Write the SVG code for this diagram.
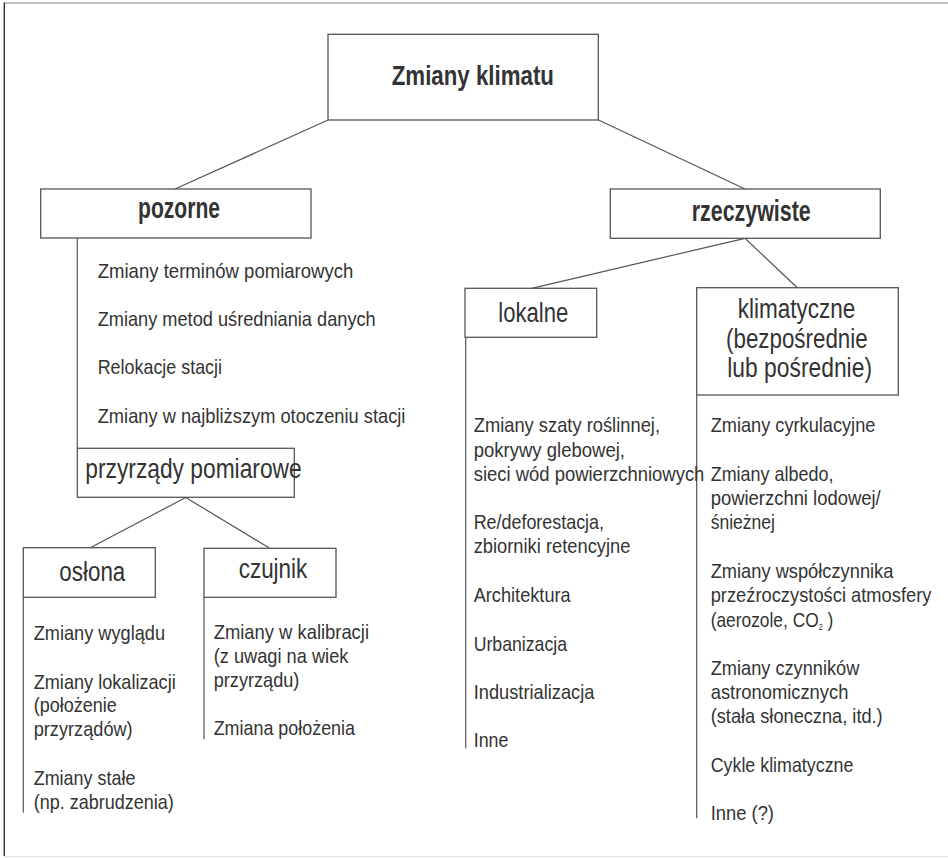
<svg xmlns="http://www.w3.org/2000/svg" width="948" height="858" viewBox="0 0 948 858">
<style>
.box{fill:#fff;stroke:#555;stroke-width:1.3}
.c{stroke:#555;stroke-width:1.2;fill:none}
text{font-family:"Liberation Sans",Arial,sans-serif;fill:#333}
.t{font-size:21px}
.lb{font-size:27px}
.b{font-size:28px;font-weight:bold}
.b2{font-size:30px;font-weight:bold}
</style>
<rect x="0" y="0" width="948" height="858" fill="#fff"/>
<g id="frame">
<line x1="4" y1="3" x2="948" y2="3" stroke="#888" stroke-width="1.2"/>
<line x1="4.3" y1="2.5" x2="4.3" y2="856" stroke="#333" stroke-width="1.4"/>
<line x1="4" y1="856.7" x2="948" y2="856.7" stroke="#e4e4e4" stroke-width="1.2"/>
</g>
<g id="connectors">
<line class="c" x1="328" y1="120" x2="175" y2="189"/>
<line class="c" x1="598.5" y1="120" x2="745" y2="189"/>
<line class="c" x1="77.3" y1="238" x2="77.3" y2="448.3"/>
<line class="c" x1="185.7" y1="497.5" x2="90.7" y2="547.5"/>
<line class="c" x1="185.7" y1="497.5" x2="269.3" y2="548"/>
<line class="c" x1="23.3" y1="597.3" x2="23.3" y2="812.7"/>
<line class="c" x1="204" y1="597.3" x2="204" y2="739.3"/>
<line class="c" x1="745" y1="238.3" x2="531.7" y2="288.3"/>
<line class="c" x1="745" y1="238.3" x2="797.3" y2="287.7"/>
<line class="c" x1="465.7" y1="337.3" x2="465.7" y2="748.3"/>
<line class="c" x1="696.7" y1="395" x2="696.7" y2="818.3"/>
</g>
<g id="n-zmiany-klimatu">
<rect class="box" x="328" y="34.3" width="270.3" height="85.7"/>
<text class="b" x="391.7" y="85" textLength="162.3" lengthAdjust="spacingAndGlyphs">Zmiany klimatu</text>
</g>
<g id="n-pozorne">
<rect class="box" x="40.7" y="189" width="270.3" height="49"/>
<text class="b2" x="138" y="217.5" textLength="82" lengthAdjust="spacingAndGlyphs">pozorne</text>
</g>
<g id="n-rzeczywiste">
<rect class="box" x="610.3" y="189" width="270" height="49.3"/>
<text class="b2" x="691.7" y="220.5" textLength="119" lengthAdjust="spacingAndGlyphs">rzeczywiste</text>
</g>
<g id="l-pozorne">
<text class="t" x="97.7" y="278.3" textLength="255.7" lengthAdjust="spacingAndGlyphs">Zmiany terminów pomiarowych</text>
<text class="t" x="97.7" y="326" textLength="278" lengthAdjust="spacingAndGlyphs">Zmiany metod uśredniania danych</text>
<text class="t" x="97.7" y="374.3" textLength="124.3" lengthAdjust="spacingAndGlyphs">Relokacje stacji</text>
<text class="t" x="97.7" y="422.7" textLength="307.7" lengthAdjust="spacingAndGlyphs">Zmiany w najbliższym otoczeniu stacji</text>
</g>
<g id="n-przyrzady">
<rect class="box" x="77.3" y="448.3" width="217" height="49"/>
<text class="lb" x="85.3" y="478.3" style="font-size:28px" textLength="216.4" lengthAdjust="spacingAndGlyphs">przyrządy pomiarowe</text>
</g>
<g id="n-oslona">
<rect class="box" x="23.3" y="547.7" width="132" height="49.6"/>
<text class="lb" x="59.3" y="580.7" textLength="66" lengthAdjust="spacingAndGlyphs">osłona</text>
</g>
<g id="n-czujnik">
<rect class="box" x="204" y="548.3" width="132" height="49"/>
<text class="lb" x="238.7" y="578.3" textLength="68.6" lengthAdjust="spacingAndGlyphs">czujnik</text>
</g>
<g id="l-oslona">
<text class="t" x="33.7" y="640" textLength="131.3" lengthAdjust="spacingAndGlyphs">Zmiany wyglądu</text>
<text class="t" x="33.7" y="688.7" textLength="142" lengthAdjust="spacingAndGlyphs">Zmiany lokalizacji</text>
<text class="t" x="33.7" y="712.3" textLength="83" lengthAdjust="spacingAndGlyphs">(położenie</text>
<text class="t" x="33.7" y="736" textLength="99" lengthAdjust="spacingAndGlyphs">przyrządów)</text>
<text class="t" x="33.7" y="785" textLength="101.7" lengthAdjust="spacingAndGlyphs">Zmiany stałe</text>
<text class="t" x="33.7" y="808.5" textLength="140" lengthAdjust="spacingAndGlyphs">(np. zabrudzenia)</text>
</g>
<g id="l-czujnik">
<text class="t" x="213.7" y="639" textLength="155.3" lengthAdjust="spacingAndGlyphs">Zmiany w kalibracji</text>
<text class="t" x="213.7" y="662.7" textLength="134.7" lengthAdjust="spacingAndGlyphs">(z uwagi na wiek</text>
<text class="t" x="213.7" y="686.5" textLength="85.7" lengthAdjust="spacingAndGlyphs">przyrządu)</text>
<text class="t" x="213.7" y="735" textLength="141.3" lengthAdjust="spacingAndGlyphs">Zmiana położenia</text>
</g>
<g id="n-lokalne">
<rect class="box" x="465" y="288.3" width="131.7" height="49"/>
<text class="lb" x="498.3" y="321.7" textLength="70" lengthAdjust="spacingAndGlyphs">lokalne</text>
</g>
<g id="n-klimatyczne">
<rect class="box" x="696.7" y="287.7" width="201.6" height="107.3"/>
<text class="lb" x="737.7" y="317.7" textLength="117.6" lengthAdjust="spacingAndGlyphs">klimatyczne</text>
<text class="lb" x="726" y="347.7" textLength="141.7" lengthAdjust="spacingAndGlyphs">(bezpośrednie</text>
<text class="lb" x="727.3" y="376.7" textLength="144.7" lengthAdjust="spacingAndGlyphs">lub pośrednie)</text>
</g>
<g id="l-lokalne">
<text class="t" x="473.7" y="432.3" textLength="186.3" lengthAdjust="spacingAndGlyphs">Zmiany szaty roślinnej,</text>
<text class="t" x="473.7" y="456.7" textLength="151.3" lengthAdjust="spacingAndGlyphs">pokrywy glebowej,</text>
<text class="t" x="473.7" y="480.7" textLength="230.7" lengthAdjust="spacingAndGlyphs">sieci wód powierzchniowych</text>
<text class="t" x="473.7" y="529.3" textLength="130.3" lengthAdjust="spacingAndGlyphs">Re/deforestacja,</text>
<text class="t" x="473.7" y="553.3" textLength="156.7" lengthAdjust="spacingAndGlyphs">zbiorniki retencyjne</text>
<text class="t" x="473.7" y="602.3" textLength="97" lengthAdjust="spacingAndGlyphs">Architektura</text>
<text class="t" x="473.7" y="650.7" textLength="93.3" lengthAdjust="spacingAndGlyphs">Urbanizacja</text>
<text class="t" x="473.7" y="699" textLength="120.7" lengthAdjust="spacingAndGlyphs">Industrializacja</text>
<text class="t" x="473.7" y="747.3" textLength="34.7" lengthAdjust="spacingAndGlyphs">Inne</text>
</g>
<g id="l-klimatyczne">
<text class="t" x="710.7" y="432.3" textLength="164.7" lengthAdjust="spacingAndGlyphs">Zmiany cyrkulacyjne</text>
<text class="t" x="710.7" y="480.7" textLength="122.7" lengthAdjust="spacingAndGlyphs">Zmiany albedo,</text>
<text class="t" x="710.7" y="505" textLength="170" lengthAdjust="spacingAndGlyphs">powierzchni lodowej/</text>
<text class="t" x="710.7" y="529.3" textLength="64.3" lengthAdjust="spacingAndGlyphs">śnieżnej</text>
<text class="t" x="710.7" y="578.3" textLength="182.7" lengthAdjust="spacingAndGlyphs">Zmiany współczynnika</text>
<text class="t" x="710.7" y="602.3" textLength="220.7" lengthAdjust="spacingAndGlyphs">przeźroczystości atmosfery</text>
<text class="t" x="710.7" y="626.7" textLength="122.7" lengthAdjust="spacingAndGlyphs">(aerozole, CO<tspan font-size="9" dy="3">2</tspan><tspan dy="-3"> )</tspan></text>
<text class="t" x="710.7" y="675" textLength="148.7" lengthAdjust="spacingAndGlyphs">Zmiany czynników</text>
<text class="t" x="710.7" y="699" textLength="137.7" lengthAdjust="spacingAndGlyphs">astronomicznych</text>
<text class="t" x="710.7" y="723.3" textLength="172" lengthAdjust="spacingAndGlyphs">(stała słoneczna, itd.)</text>
<text class="t" x="710.7" y="771.7" textLength="142.7" lengthAdjust="spacingAndGlyphs">Cykle klimatyczne</text>
<text class="t" x="710.7" y="820" textLength="63.3" lengthAdjust="spacingAndGlyphs">Inne (?)</text>
</g>
</svg>
